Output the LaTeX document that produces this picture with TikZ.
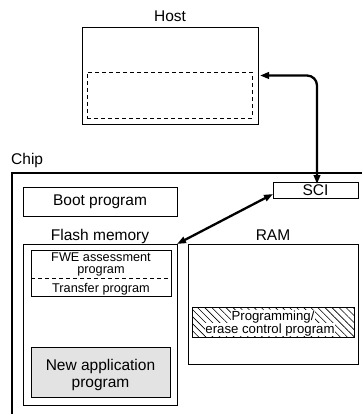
\documentclass[tikz,border=0pt]{standalone}
\usepackage{fontspec}
\setmainfont{Liberation Sans}
\usetikzlibrary{arrows.meta,patterns.meta}
\begin{document}
\begin{tikzpicture}[x=1pt,y=-1pt,
  box/.style={draw, line width=0.9pt, inner sep=0pt, outer sep=0pt},
  big/.style={font=\fontsize{15.5}{17}\selectfont, inner sep=0pt},
  small/.style={font=\fontsize{12.7}{10}\selectfont, inner sep=0pt},
  hsmall/.style={font=\fontsize{13.2}{11}\selectfont, inner sep=0.4pt, fill=white},
  dsh/.style={dash pattern=on 4pt off 3pt, line width=0.7pt},
  bidir/.style={line width=2.3pt, {Triangle[length=9pt,width=6.5pt]}-{Triangle[length=9pt,width=6.5pt]}},
]
\useasboundingbox (0,0) rectangle (362,414);
% Host
\node[big, anchor=base] (hostlbl) at (170,22) {Host};
\node[box, minimum width=176pt, minimum height=97pt] (host) at (170,75.5) {};
\node[box, dsh, minimum width=165pt, minimum height=46pt] (hostin) at (169.5,95) {};
% Chip
\node[big, anchor=base west] (chiplbl) at (11,164) {Chip};
\coordinate (chipTR) at (362,173);
\coordinate (chipBL) at (12,414);
\draw[line width=1.1pt] (chipBL) |- (chipTR);
\node[box, big, minimum width=85pt, minimum height=16pt] (sci) at (315.5,190) {SCI};
\node[box, big, minimum width=154pt, minimum height=29pt] (boot) at (100,201.5) {Boot program};
\node[big, anchor=base] (flashlbl) at (100,240) {Flash memory};
\node[big, anchor=base] (ramlbl) at (273,240) {RAM};
\node[box, minimum width=154pt, minimum height=161pt] (flash) at (100,324.5) {};
\node[box, minimum width=170pt, minimum height=120pt] (ram) at (273,304) {};
% FWE / transfer
\node[box, minimum width=140pt, minimum height=46pt] (fwe) at (101,273) {};
\coordinate (dl) at (31,278);
\coordinate (dr) at (171,278);
\draw[dsh] (dl) -- (dr);
\node[small, anchor=base] (fwe1) at (101,261.8) {FWE assessment};
\node[small, anchor=base] (fwe2) at (101,273.5) {program};
\node[small, anchor=base] (trans) at (101,292) {Transfer program};
% hatched
\node[box, pattern={Lines[angle=-45,distance=5pt,line width=0.6pt]}, minimum width=162pt, minimum height=30pt] (hatch) at (273,322) {};
\node[hsmall, anchor=base] (h1) at (273,320) {Programming/};
\node[hsmall, anchor=base] (h2) at (270,333) {erase control program};
% new application
\node[box, fill=black!11, minimum width=139pt, minimum height=50pt] (app) at (100.5,372) {};
\node[big, anchor=base] (app1) at (100.5,370) {New application};
\node[big, anchor=base] (app2) at (100.5,387) {program};
% arrows
\draw[bidir, rounded corners=10pt] ([xshift=2pt]host.east) -| ([xshift=1.5pt,yshift=-2pt]sci.north);
\draw[bidir] ([yshift=-4pt]sci.west) -- (flash.north east);
\end{tikzpicture}
\end{document}
